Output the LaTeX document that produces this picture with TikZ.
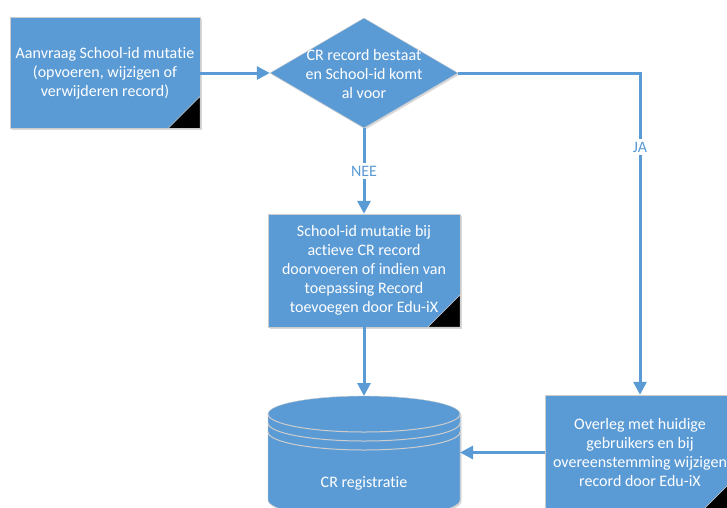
\documentclass[tikz,border=0pt]{standalone}
\usepackage{fontspec}
\setmainfont{Carlito}[Ligatures={NoCommon}]
\usetikzlibrary{shapes.geometric,arrows.meta,shadows}
\definecolor{blauw}{RGB}{91,155,213}
\definecolor{rand}{RGB}{205,205,205}

\begin{document}
\begin{tikzpicture}[x=1pt,y=-1pt,
    schaduw/.style={drop shadow={opacity=0.3,shadow xshift=1.5pt,shadow yshift=-1.5pt}},
    letter/.style={font=\fontsize{16}{19}\selectfont},
    blok/.style={draw=rand,fill=blauw,schaduw,text=white,align=center,inner sep=0pt,letter,
        path picture={\filldraw[fill=black,draw=rand] (path picture bounding box.south east) -- ++(0,-32) -- ++(-32,32) -- cycle;}},
    pijl/.style={draw=blauw,line width=3pt,-{Triangle[length=13pt,width=13pt]}},
    jn/.style={text=blauw,fill=white,letter,inner sep=3pt}]
    \clip (0,0) rectangle (727,507);

    \node[blok,minimum width=190pt,minimum height=111pt] (aanvraag) at (105,73) {Aanvraag School-id mutatie\\(opvoeren, wijzigen of\\verwijderen record)};
    \node[diamond,draw=rand,fill=blauw,schaduw,minimum width=188pt,minimum height=110pt,inner sep=0pt] (vraag) at (364,73) {};
    \node[text=white,align=center,letter] (vraagtekst) at (364,74) {CR record bestaat\\en School-id komt\\al voor};

    \node[blok,minimum width=192pt,minimum height=113pt] (doorvoeren) at (364,270.5) {School-id mutatie bij\\actieve CR record\\doorvoeren of indien van\\toepassing Record\\toevoegen door Edu-iX};
    \node[blok,minimum width=190pt,minimum height=115pt] (overleg) at (640,452.5) {Overleg met huidige\\gebruikers en bij\\overeenstemming wijzigen\\record door Edu-iX};

    % database
    \fill[blauw,schaduw] (268,414) -- (268,500) arc[start angle=180,end angle=360,x radius=96pt,y radius=18pt] -- (460,414) arc[start angle=0,end angle=180,x radius=96pt,y radius=18pt] -- cycle;
    \draw[rand] (268,414) -- (268,500) arc[start angle=180,end angle=360,x radius=96pt,y radius=18pt] -- (460,414) arc[start angle=0,end angle=180,x radius=96pt,y radius=18pt];
    \foreach \d in {0,9,18}
        \draw[rand,line width=1pt] (268,414+\d) arc[start angle=180,end angle=360,x radius=96pt,y radius=18pt];
    \node[text=white,letter] (db) at (364,483) {CR registratie};
    \coordinate (dbtop) at (364,396);
    \coordinate (dbrechts) at (460,452.5);

    \draw[pijl] (aanvraag) -- (vraag);
    \draw[pijl] (vraag) -- node[jn] (nee) {NEE} (doorvoeren);
    \draw[pijl] (vraag.east) -| node[jn,pos=0.615] (ja) {JA} (overleg.north);
    \draw[pijl] (doorvoeren) -- (dbtop);
    \draw[pijl] (overleg) -- (dbrechts);
\end{tikzpicture}
\end{document}
